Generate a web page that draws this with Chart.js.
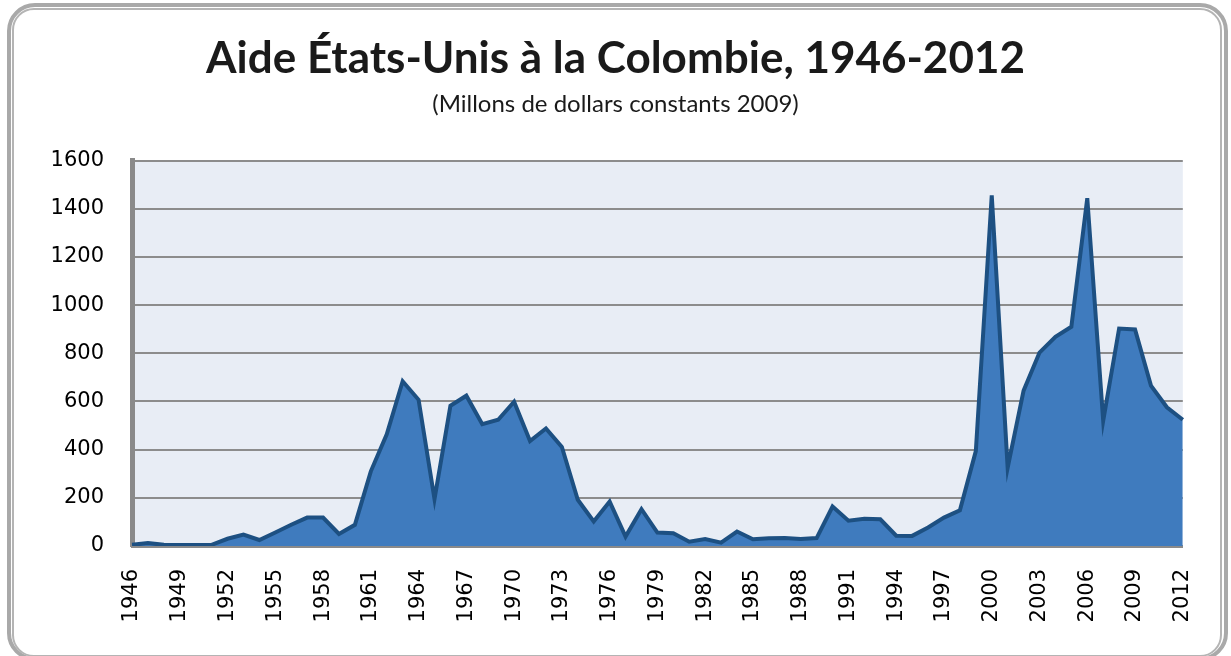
<!DOCTYPE html>
<html>
<head>
<meta charset="utf-8">
<script src="https://cdn.jsdelivr.net/npm/chart.js@4/dist/chart.umd.min.js"></script>
<style>
  html, body { margin: 0; padding: 0; background: #ffffff; overflow: hidden; }
  .frame { position: absolute; box-sizing: border-box; }
  #outer { left: 7px; top: 3px; width: 1221px; height: 658px; border: 4px solid #a9a9a9; border-radius: 28px; }
  #inner { left: 12px; top: 8px; width: 1210px; height: 649px; border: 2px solid #b4b4b4; border-radius: 22px; }
  #wrap { position: absolute; left: 0; top: 0; width: 1231px; height: 656px; }
</style>
</head>
<body>
<div id="outer" class="frame"></div>
<div id="inner" class="frame"></div>
<div id="wrap"><canvas id="c" width="1231" height="656"></canvas></div>
<script>
const titleText = "Aide États-Unis à la Colombie, 1946-2012";
const subtitleText = "(Millons de dollars constants 2009)";

const years = [
  "1946","1947","1948","1949","1950","1951","1952","1953","1954","1955",
  "1956","1957","1958","1959","1960","1961","1962","1963","1964","1965",
  "1966","1967","1968","1969","1970","1971","1972","1973","1974","1975",
  "1976","1977","1978","1979","1980","1981","1982","1983","1984","1985",
  "1986","1987","1988","1989","1990","1991","1992","1993","1994","1995",
  "1996","1997","1998","1999","2000","2001","2002","2003","2004","2005",
  "2006","2007","2008","2009","2010","2011","2012"
];

const aid = [
  5, 12, 5, 4, 4, 5, 30, 47, 25, 56,
  88, 118, 118, 50, 88, 310, 464, 684, 607, 195,
  582, 624, 506, 524, 599, 436, 488, 411, 192, 102,
  185, 39, 153, 56, 53, 18, 29, 14, 60, 28,
  32, 33, 29, 33, 164, 105, 113, 111, 43, 42,
  77, 118, 148, 394, 1456, 325, 645, 803, 868, 910,
  1444, 520, 903, 899, 666, 576, 524
];

const yTicks = [0, 200, 400, 600, 800, 1000, 1200, 1400, 1600];

const tickFont = { family: "'DejaVu Sans', sans-serif", size: 21 };

const plotBg = {
  id: 'plotBg',
  beforeDraw(chart) {
    const {ctx, chartArea: a} = chart;
    ctx.save();
    ctx.fillStyle = '#e8edf5';
    ctx.fillRect(a.left, a.top, a.right - a.left, a.bottom - a.top);
    ctx.restore();
  }
};

new Chart(document.getElementById('c'), {
  type: 'line',
  data: {
    labels: years,
    datasets: [{
      data: aid,
      fill: 'origin',
      backgroundColor: '#3f7bbe',
      borderColor: '#1d5082',
      borderWidth: 4,
      borderJoinStyle: 'miter',
      pointRadius: 0,
      tension: 0
    }]
  },
  options: {
    responsive: false,
    animation: false,
    devicePixelRatio: 1,
    layout: { padding: { left: 0, right: 0, top: 0, bottom: 0 } },
    plugins: {
      legend: { display: false },
      tooltip: { enabled: false },
      title: {
        display: true,
        text: titleText,
        color: '#1a1a1a',
        font: { family: "'Lato', sans-serif", size: 44, weight: 'bold', lineHeight: 1.2 },
        padding: { top: 32, bottom: 5 }
      },
      subtitle: {
        display: true,
        text: subtitleText,
        color: '#1a1a1a',
        font: { family: "'Lato', sans-serif", size: 24, lineHeight: 1.2 },
        padding: { top: 0, bottom: 42 }
      }
    },
    scales: {
      x: {
        offset: false,
        grid: { display: false, drawTicks: false },
        border: { display: true, color: '#8a8a8a', width: 3 },
        ticks: {
          autoSkip: false,
          minRotation: 90,
          maxRotation: 90,
          padding: 23,
          color: '#000',
          font: tickFont,
          callback: function(v, i) { return (i % 3 === 0) ? years[i] : null; }
        },
        afterFit(scale) { scale.height = 110; }
      },
      y: {
        min: 0,
        max: 1600,
        afterBuildTicks(scale) { scale.ticks = yTicks.map(v => ({ value: v })); },
        grid: { color: '#8c8c8c', lineWidth: 2, drawTicks: false },
        border: { display: true, color: '#8a8a8a', width: 5 },
        ticks: {
          padding: 28,
          color: '#000',
          font: tickFont,
          callback: function(v) { return String(v); }
        },
        afterFit(scale) { scale.width = 132; }
      },
      ySpacer: {
        position: 'right',
        display: true,
        grid: { display: false, drawTicks: false },
        border: { display: false },
        ticks: { display: false },
        afterFit(scale) { scale.width = 48; }
      }
    }
  },
  plugins: [plotBg]
});
</script>
</body>
</html>
